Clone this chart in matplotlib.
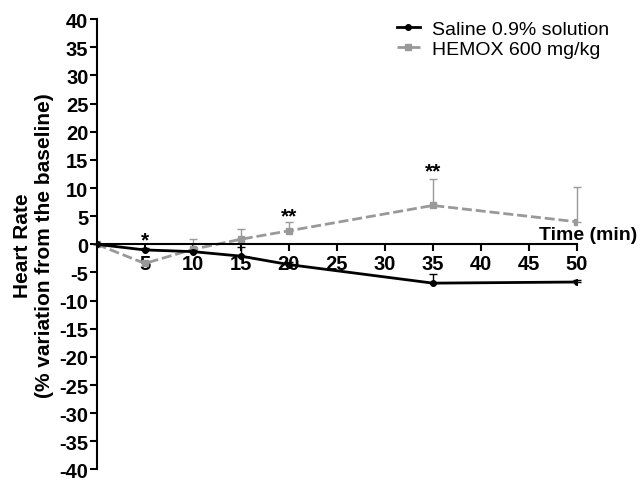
"""Heart rate variation over time: saline vs HEMOX."""

import matplotlib
matplotlib.use("Agg")
import matplotlib.pyplot as plt
from matplotlib.lines import Line2D

plt.rcParams["font.family"] = ["Liberation Sans", "DejaVu Sans"]
plt.rcParams["axes.unicode_minus"] = False

time_min = [0, 5, 10, 15, 20, 35, 50]
saline = [0, -1.0, -1.3, -2.1, -3.6, -6.9, -6.7]
saline_err = [0, 0.3, 0.3, 1.6, 0.5, 1.6, 0.4]
hemox = [0, -3.4, -0.9, 0.9, 2.4, 6.9, 4.0]
hemox_err = [0, 0.3, 1.8, 1.8, 1.5, 4.7, 6.2]

# significance marks (baseline of the asterisks)
stars_x = [5, 20, 35]
stars_y = [-0.2, 4.1, 12.0]
stars_txt = ["*", "**", "**"]


def main() -> None:
    fig = plt.figure(figsize=(6.41, 4.81), dpi=100)
    ax = fig.add_axes([0.151, 0.022, 0.749, 0.936])

    hemox_style = dict(color="#999999", ls=(0, (3.6, 1.4)), lw=2,
                       marker="s", ms=4.5)
    saline_style = dict(color="black", ls="-", lw=2, marker="o", ms=4)

    eb = ax.errorbar(time_min, hemox, yerr=[[0] * len(hemox), hemox_err],
                     capsize=3, elinewidth=1, capthick=1, zorder=2,
                     **hemox_style)
    for art in eb.lines[1] + eb.lines[2]:
        art.set_clip_on(False)
    eb = ax.errorbar(time_min, saline, yerr=[[0] * len(saline), saline_err],
                     capsize=3, elinewidth=1, capthick=1, zorder=3,
                     **saline_style)
    for art in eb.lines[1] + eb.lines[2]:
        art.set_clip_on(False)

    for x, y, s in zip(stars_x, stars_y, stars_txt):
        ax.text(x, y, s, ha="center", va="baseline", fontsize=15,
                fontweight="bold")

    ax.set_xlim(0, 50)
    ax.set_ylim(-40, 40)
    ax.set_xticks(range(5, 51, 5))
    ax.set_yticks(range(-40, 41, 5))
    ax.spines["bottom"].set_position(("data", 0))
    ax.spines["top"].set_visible(False)
    ax.spines["right"].set_visible(False)
    ax.spines["left"].set_linewidth(1.5)
    ax.spines["bottom"].set_linewidth(1.5)
    ax.tick_params(axis="both", direction="out", length=5, width=1.5,
                   labelsize=14.5)
    for lab in ax.get_xticklabels() + ax.get_yticklabels():
        lab.set_fontweight("bold")
    ax.tick_params(axis="y", pad=1)
    ax.tick_params(axis="x", pad=2)

    ax.text(46.1, 0.3, "Time (min)", ha="left", va="bottom", fontsize=14,
            fontweight="bold")
    ax.set_ylabel("Heart Rate\n(% variation from the baseline)",
                  fontsize=15, fontweight="bold", labelpad=4)

    handles = [Line2D([], [], **saline_style), Line2D([], [], **hemox_style)]
    labels = ["Saline 0.9% solution", "HEMOX 600 mg/kg"]
    fig.legend(handles, labels, loc="upper left",
               bbox_to_anchor=(0.619, 0.956), frameon=False, fontsize=14,
               handlelength=1.2, handletextpad=0.6, borderpad=0,
               borderaxespad=0, labelspacing=0.15)

    fig.savefig("out.png", dpi=100)
    plt.close(fig)


if __name__ == "__main__":
    main()
